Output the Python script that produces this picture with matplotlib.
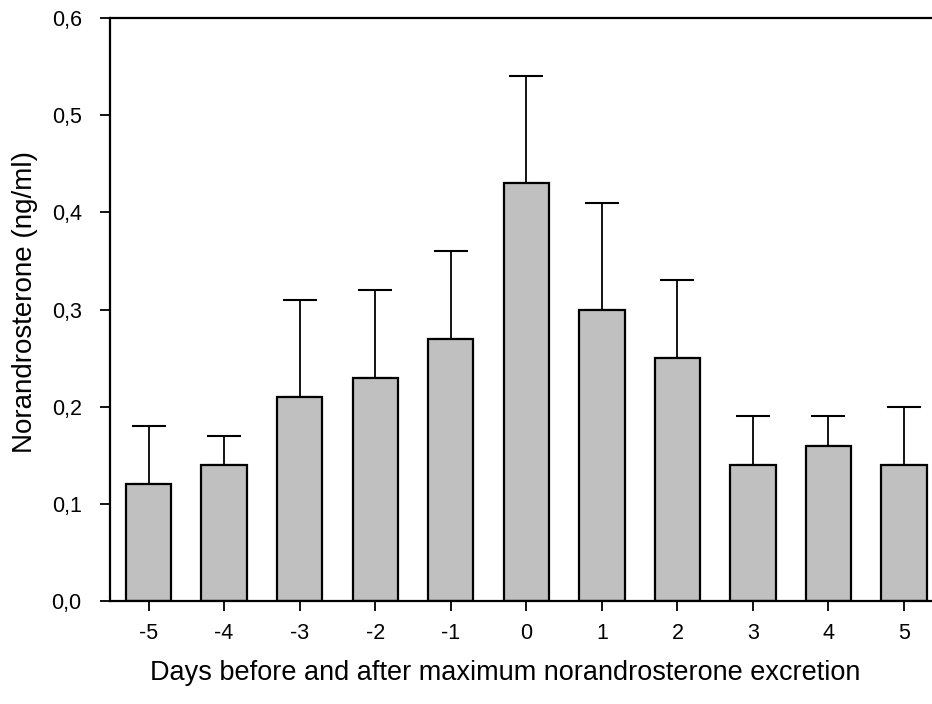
import matplotlib
matplotlib.use('Agg')
import matplotlib.pyplot as plt

# Data
days = [-5, -4, -3, -2, -1, 0, 1, 2, 3, 4, 5]
means = [0.12, 0.14, 0.21, 0.23, 0.27, 0.43, 0.30, 0.25, 0.14, 0.16, 0.14]
upper = [0.18, 0.17, 0.31, 0.32, 0.36, 0.54, 0.41, 0.33, 0.19, 0.19, 0.20]
yticks = [0.0, 0.1, 0.2, 0.3, 0.4, 0.5, 0.6]
ytick_labels = ['0,0', '0,1', '0,2', '0,3', '0,4', '0,5', '0,6']

plt.rcParams['font.family'] = ['Liberation Sans', 'DejaVu Sans']

fig = plt.figure(figsize=(9.32, 7.04), dpi=100)
ax = fig.add_axes([0.1175, 0.1463, 0.8825, 0.8281])

err = [[0] * len(means), [u - m for u, m in zip(upper, means)]]
ax.bar(days, means, width=0.6, color='#c0c0c0', edgecolor='black', linewidth=1.6, zorder=2)
ax.errorbar(days, means, yerr=err, fmt='none', ecolor='black', elinewidth=1.3,
            capsize=12, capthick=1.5, zorder=1)

ax.set_xlim(-5.517, 5.37)
ax.set_ylim(0, 0.6)
ax.set_xticks(days)
ax.set_xticklabels([str(d) for d in days], fontsize=15.5)
ax.set_yticks(yticks)
ax.set_yticklabels(ytick_labels, fontsize=15.5)
ax.tick_params(axis='both', direction='out', length=7, width=1.3)
ax.tick_params(axis='y', pad=13)
ax.tick_params(axis='x', pad=9)

ax.spines['right'].set_visible(False)
for s in ['left', 'top', 'bottom']:
    ax.spines[s].set_linewidth(1.6)

ax.set_xlabel('Days before and after maximum norandrosterone excretion', fontsize=19.5, labelpad=11)
ax.set_ylabel('Norandrosterone (ng/ml)', fontsize=20, labelpad=10)
ax.xaxis.label.set_x(0.481)
ax.yaxis.label.set_y(0.513)

fig.savefig('out.png', dpi=100)
